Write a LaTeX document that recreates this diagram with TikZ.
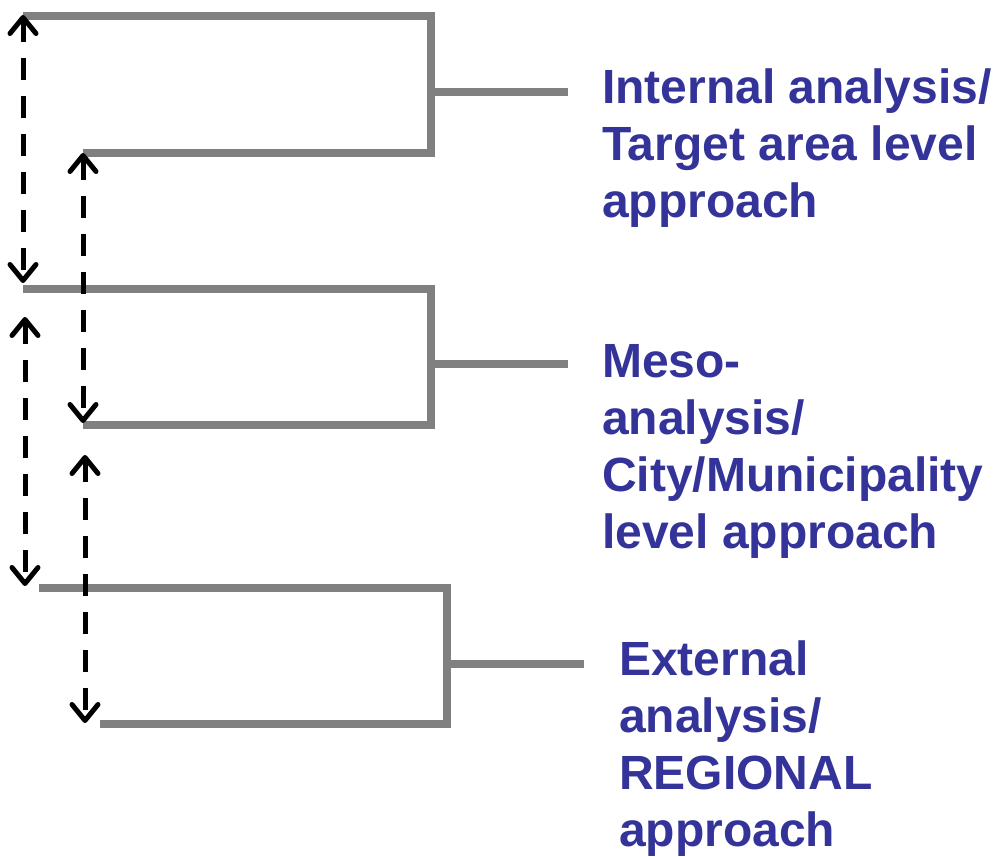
\documentclass[tikz,border=0pt]{standalone}
\usepackage{fontspec}
\setmainfont{Liberation Sans}
\usetikzlibrary{arrows.meta}
\definecolor{txtblue}{HTML}{333399}
\definecolor{brgray}{HTML}{808080}
\tikzset{
  tip/.tip={Straight Barb[length=16pt,width=26pt,line cap=round,line join=round]},
  bracket/.style={draw=brgray, line width=8pt, miter limit=10},
  link/.style={draw=black, line width=5pt, dash pattern=on 22pt off 16pt, tip-tip},
  label/.style={anchor=base west, inner sep=0pt, align=left, text=txtblue,
    font=\fontsize{48pt}{57pt}\selectfont\bfseries}
}
\begin{document}
\begin{tikzpicture}[x=1pt,y=-1pt]
\useasboundingbox (0,0) rectangle (995,856);
% bracket 1
\coordinate (t1) at (23,16);
\coordinate (b1) at (83,153);
\coordinate (s1) at (431,92);
\coordinate (e1) at (568,92);
\draw[bracket] (t1) -- (431,16) -- (431,153) -- (b1);
\draw[bracket] (s1) -- (e1);
% bracket 2
\coordinate (t2) at (23,289);
\coordinate (b2) at (83,425);
\coordinate (s2) at (431,364);
\coordinate (e2) at (568,364);
\draw[bracket] (t2) -- (431,289) -- (431,425) -- (b2);
\draw[bracket] (s2) -- (e2);
% bracket 3
\coordinate (t3) at (39,588);
\coordinate (b3) at (100,724);
\coordinate (s3) at (447,664);
\coordinate (e3) at (584,664);
\draw[bracket] (t3) -- (447,588) -- (447,724) -- (b3);
\draw[bracket] (s3) -- (e3);
% labels (base anchor = baseline of last line)
\node[label] (l1) at (602,217) {Internal analysis/\\Target area level\\approach};
\node[label] (l2) at (602,548) {Meso-\\analysis/\\City/Municipality\\level approach};
\node[label] (l3) at (619,846) {External\\analysis/\\REGIONAL\\approach};
% dashed arrows
\coordinate (a1s) at (23,15);
\coordinate (a1e) at (23,283);
\coordinate (a2s) at (25,317);
\coordinate (a2e) at (25,586);
\coordinate (a3s) at (83,153);
\coordinate (a3e) at (83,423);
\coordinate (a4s) at (85,455);
\coordinate (a4e) at (85,723);
\draw[link] (a1s) -- (a1e);
\draw[link] (a2s) -- (a2e);
\draw[link] (a3s) -- (a3e);
\draw[link] (a4s) -- (a4e);
\end{tikzpicture}
\end{document}
